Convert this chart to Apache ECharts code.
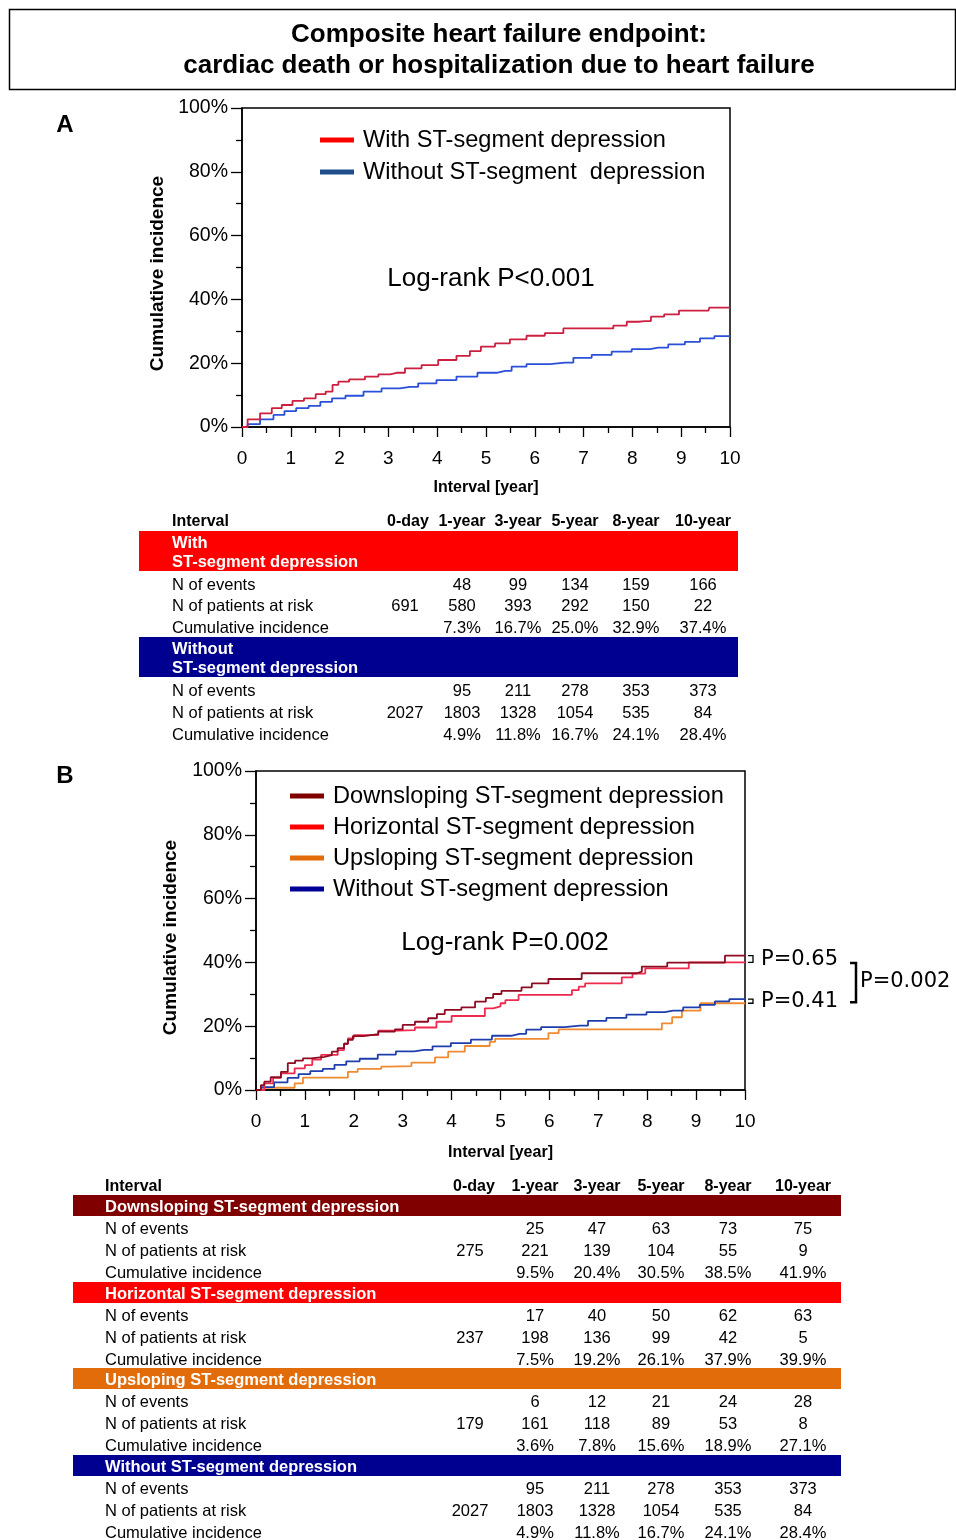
<!DOCTYPE html>
<html>
<head>
<meta charset="utf-8">
<script src="https://cdn.jsdelivr.net/npm/echarts@6/dist/echarts.min.js"></script>
<style>
html,body{margin:0;padding:0;background:#fff;}
#main{width:956px;height:1540px;}
</style>
</head>
<body>
<div id="main"></div>
<script>
// ---------------- DATA ----------------
// Panel A curves: [year, cumulative incidence %]
const withST = [[0,0],[0.23,2.4],[0.51,4.3],[0.71,5.9],[0.92,6.9],[1.15,8.2],[1.39,9.0],[1.63,10.3],[1.8,11.1],[1.91,13.2],[2.04,14.2],[2.35,14.9],[2.69,15.8],[2.9,16.5],[3.17,17.0],[3.51,18.4],[3.85,19.4],[4.19,21.0],[4.6,22.3],[4.74,23.8],[5.05,25.2],[5.32,26.2],[5.66,27.5],[6.0,28.6],[6.41,29.4],[6.76,30.9],[7.44,30.9],[7.78,31.8],[7.99,33.0],[8.26,33.2],[8.5,34.6],[8.8,35.3],[9.11,36.5],[9.56,36.5],[9.59,37.4],[10,37.4]];
const withoutST = [[0,0],[0.23,0.9],[0.51,2.4],[0.78,3.8],[0.96,5.0],[1.26,5.9],[1.47,6.6],[1.74,7.9],[1.95,9.0],[2.29,9.8],[2.69,11.1],[3.03,12.1],[3.44,12.6],[3.78,13.7],[4.19,14.7],[4.6,15.8],[5.05,17.0],[5.39,17.6],[5.66,18.9],[6.0,19.7],[6.62,20.2],[6.96,21.7],[7.37,22.6],[7.78,23.6],[8.19,24.4],[8.53,24.9],[8.94,25.9],[9.21,26.7],[9.56,27.8],[9.8,28.5],[10,28.5]];
// Panel B curves (jump time, value after jump)
const downsloping = [[0,0],[0.1,1.5],[0.17,2.6],[0.3,4.0],[0.51,5.7],[0.65,8.4],[0.8,9.2],[0.96,9.9],[1.13,10.4],[1.4,10.9],[1.55,12.0],[1.67,13.1],[1.8,14.5],[1.88,15.7],[1.98,16.9],[2.2,17.5],[2.5,18.3],[2.84,19.0],[3.0,20.4],[3.25,21.4],[3.52,22.5],[3.7,23.8],[3.86,25.1],[4.2,25.9],[4.48,27.7],[4.7,28.9],[4.85,30.1],[5.02,31.1],[5.43,32.2],[5.64,33.4],[5.98,34.8],[6.66,36.6],[7.79,37.1],[7.89,38.7],[8.41,39.9],[9.59,42.1],[10,42.1]];
const horizontal = [[0,0],[0.17,2.1],[0.35,3.8],[0.51,5.2],[0.79,6.8],[1.0,7.8],[1.15,9.5],[1.33,11.0],[1.67,12.5],[1.8,14.5],[1.88,16.2],[2.0,17.2],[2.5,18.6],[2.9,18.8],[3.25,19.6],[3.69,21.4],[4.0,23.2],[4.68,25.6],[4.85,26.2],[5.0,27.2],[5.1,28.2],[5.37,29.8],[6.46,31.3],[6.6,32.4],[6.73,33.4],[7.48,35.3],[7.7,36.5],[7.96,38.1],[8.85,40.0],[10,40.0]];
const upsloping = [[0,0],[0.17,0.7],[0.79,2.1],[0.96,3.9],[1.88,5.7],[2.08,6.6],[2.56,7.3],[2.7,7.5],[3.18,8.6],[3.66,10.2],[3.93,12.0],[4.27,13.8],[4.78,15.1],[4.89,16.0],[5.98,17.8],[6.19,19.0],[8.3,20.9],[8.51,22.8],[8.71,24.9],[9.09,27.2],[10,27.2]];

// Tables
const intervalCols = ['0-day','1-year','3-year','5-year','8-year','10-year'];
const rowLabels = ['N of events','N of patients at risk','Cumulative incidence'];
const withST_events = ['','48','99','134','159','166'];
const withST_atRisk = ['691','580','393','292','150','22'];
const withST_cumInc = ['','7.3%','16.7%','25.0%','32.9%','37.4%'];
const withoutST_events = ['','95','211','278','353','373'];
const withoutST_atRisk = ['2027','1803','1328','1054','535','84'];
const withoutST_cumInc = ['','4.9%','11.8%','16.7%','24.1%','28.4%'];
const down_events = ['','25','47','63','73','75'];
const down_atRisk = ['275','221','139','104','55','9'];
const down_cumInc = ['','9.5%','20.4%','30.5%','38.5%','41.9%'];
const horiz_events = ['','17','40','50','62','63'];
const horiz_atRisk = ['237','198','136','99','42','5'];
const horiz_cumInc = ['','7.5%','19.2%','26.1%','37.9%','39.9%'];
const up_events = ['','6','12','21','24','28'];
const up_atRisk = ['179','161','118','89','53','8'];
const up_cumInc = ['','3.6%','7.8%','15.6%','18.9%','27.1%'];

const pValues = ['P=0.65','P=0.41','P=0.002'];
const logRankA = 'Log-rank P<0.001';
const logRankB = 'Log-rank P=0.002';

// ---------------- CHART ----------------
const FONT = "'Liberation Sans', Arial, sans-serif";
const chart = echarts.init(document.getElementById('main'), null, {renderer:'canvas'});

function yAxisCfg(gi, gap, shift){
  return {
    gridIndex: gi, type:'value', min:0, max:100, interval:20,
    name:'Cumulative incidence', nameLocation:'middle', nameGap:gap,
    nameTextStyle:{fontFamily:FONT, fontSize:19, fontWeight:'bold', color:'#000', padding:[0, shift, 0, 0]},
    axisLine:{show:true, lineStyle:{color:'#000', width:1.5}},
    axisTick:{show:true, length:11, lineStyle:{color:'#000', width:1.3}},
    minorTick:{show:true, splitNumber:2, length:6, lineStyle:{color:'#000', width:1.3}},
    splitLine:{show:false},
    axisLabel:{formatter:'{value}%', fontFamily:FONT, fontSize:19.5, color:'#000', margin:14}
  };
}
function xAxisCfg(gi, gap){
  return {
    gridIndex: gi, type:'value', min:0, max:10, interval:1,
    name:'Interval [year]', nameLocation:'middle', nameGap:gap,
    nameTextStyle:{fontFamily:FONT, fontSize:16, fontWeight:'bold', color:'#000'},
    axisLine:{show:true, onZero:false, lineStyle:{color:'#000', width:1.5}},
    axisTick:{show:true, length:10, lineStyle:{color:'#000', width:1.3}},
    minorTick:{show:true, splitNumber:2, length:6, lineStyle:{color:'#000', width:1.3}},
    splitLine:{show:false},
    axisLabel:{fontFamily:FONT, fontSize:19, color:'#000', margin:22}
  };
}
function lineSeries(name, data, xi, lineColor, legendColor, step){
  return {
    name:name, type:'line', xAxisIndex:xi, yAxisIndex:xi, data:data,
    step:step, showSymbol:false, symbol:'none', silent:true,
    lineStyle:{color:lineColor, width:1.8},
    itemStyle:{color:legendColor}
  };
}
const legendText = {fontFamily:FONT, fontSize:23.6, lineHeight:26, color:'#000', padding:[0,0,0,4]};

const option = {
  animation:false,
  backgroundColor:'#fff',
  grid:[
    {left:242, top:108, width:488, height:319, show:true, borderColor:'#000', borderWidth:1.5, backgroundColor:'transparent'},
    {left:256, top:771, width:489, height:319, show:true, borderColor:'#000', borderWidth:1.5, backgroundColor:'transparent'}
  ],
  xAxis:[xAxisCfg(0, 53), xAxisCfg(1, 55)],
  yAxis:[yAxisCfg(0, 75, 12), yAxisCfg(1, 76, 14)],
  legend:[
    {data:[{name:'With ST-segment depression', itemStyle:{color:'#ff0000'}},
           {name:'Without ST-segment  depression', itemStyle:{color:'#1f4e8c'}}],
     orient:'vertical', left:315, top:122, icon:'rect', itemWidth:34, itemHeight:5, itemGap:6,
     selectedMode:false, textStyle:legendText},
    {data:[{name:'Downsloping ST-segment depression', itemStyle:{color:'#800000'}},
           {name:'Horizontal ST-segment depression', itemStyle:{color:'#ff0000'}},
           {name:'Upsloping ST-segment depression', itemStyle:{color:'#e36c0a'}},
           {name:'Without ST-segment depression', itemStyle:{color:'#000099'}}],
     orient:'vertical', left:285, top:778, icon:'rect', itemWidth:34, itemHeight:5, itemGap:5,
     selectedMode:false, textStyle:legendText}
  ],
  series:[
    lineSeries('Without ST-segment  depression', withoutST, 0, '#2a4fd8', '#1f4e8c', 'middle'),
    lineSeries('With ST-segment depression', withST, 0, '#cc1f3f', '#ff0000', 'middle'),
    lineSeries('Upsloping ST-segment depression', upsloping, 1, '#f08a30', '#e36c0a', 'end'),
    lineSeries('Without ST-segment depression', withoutST, 1, '#1f3eae', '#000099', 'middle'),
    lineSeries('Horizontal ST-segment depression', horizontal, 1, '#ee2a4e', '#ff0000', 'end'),
    lineSeries('Downsloping ST-segment depression', downsloping, 1, '#8e0c22', '#800000', 'end')
  ]
};
chart.setOption(option);

// ---------------- GRAPHICS (title, labels, tables, p-values) ----------------
const g = [];
function txt(text, x, y, opts){
  opts = opts || {};
  g.push({type:'text', silent:true, z:100, style:{
    text:text, x:x, y:y,
    font:(opts.weight||'normal')+' '+(opts.size||16.5)+'px '+(opts.family||FONT),
    fill:opts.color||'#000',
    textAlign:opts.align||'left', align:opts.align||'left',
    textVerticalAlign:'middle', verticalAlign:'middle'
  }});
}
function rect(x,y,w,h,fill,stroke,lw){
  g.push({type:'rect', silent:true, z:90, shape:{x:x,y:y,width:w,height:h},
    style:{fill:fill||'none', stroke:stroke||null, lineWidth:lw||0}});
}
function poly(points, lw){
  g.push({type:'polyline', silent:true, z:100, shape:{points:points},
    style:{stroke:'#000', lineWidth:lw, fill:null}});
}

// Title box
rect(9.5, 9.5, 946, 80, null, '#000', 1.5);
txt('Composite heart failure endpoint:', 499, 35, {weight:'bold', size:26, align:'center'});
txt('cardiac death or hospitalization due to heart failure', 499, 66, {weight:'bold', size:26, align:'center'});
txt('A', 65, 125, {weight:'bold', size:24, align:'center'});
txt('B', 65, 776, {weight:'bold', size:24, align:'center'});

// Log-rank texts
txt(logRankA, 491, 279, {size:26, align:'center'});
txt(logRankB, 505, 943, {size:26, align:'center'});

const OFF = 1.5; // text vertical offset
// Table A
const colXA = [405, 462, 518, 575, 636, 703];
txt('Interval', 172, 520+OFF, {weight:'bold', size:16});
intervalCols.forEach((c,i)=>txt(c, colXA[i] + (i===0?3:0), 520+OFF, {weight:'bold', size:16, align:'center'}));
function tableBlockA(bandY, color, l1, l2, rows, rowYs){
  rect(139, bandY, 599, 40, color);
  txt(l1, 172, bandY+11+OFF, {weight:'bold', size:16.5, color:'#fff'});
  txt(l2, 172, bandY+30+OFF, {weight:'bold', size:16.5, color:'#fff'});
  rows.forEach((r,ri)=>{
    txt(rowLabels[ri], 172, rowYs[ri]+OFF, {size:16.5});
    r.forEach((v,ci)=>{ if(v) txt(v, colXA[ci], rowYs[ri]+OFF, {size:16.5, align:'center'}); });
  });
}
tableBlockA(531, '#ff0000', 'With', 'ST-segment depression',
  [withST_events, withST_atRisk, withST_cumInc], [584, 605, 627]);
tableBlockA(637, '#000090', 'Without', 'ST-segment depression',
  [withoutST_events, withoutST_atRisk, withoutST_cumInc], [690, 712, 734]);

// Table B
const colXB = [470, 535, 597, 661, 728, 803];
txt('Interval', 105, 1185+OFF, {weight:'bold', size:16});
intervalCols.forEach((c,i)=>txt(c, colXB[i] + (i===0?4:0), 1185+OFF, {weight:'bold', size:16, align:'center'}));
function tableBlockB(bandY, color, label, rows){
  rect(73, bandY, 768, 21, color);
  txt(label, 105, bandY+11+OFF, {weight:'bold', size:16.5, color:'#fff'});
  const ys = [bandY+33, bandY+55, bandY+77];
  rows.forEach((r,ri)=>{
    txt(rowLabels[ri], 105, ys[ri]+OFF, {size:16.5});
    r.forEach((v,ci)=>{ if(v) txt(v, colXB[ci], ys[ri]+OFF, {size:16.5, align:'center'}); });
  });
}
tableBlockB(1195, '#800000', 'Downsloping ST-segment depression', [down_events, down_atRisk, down_cumInc]);
tableBlockB(1282, '#ff0000', 'Horizontal ST-segment depression', [horiz_events, horiz_atRisk, horiz_cumInc]);
tableBlockB(1368, '#e36c0a', 'Upsloping ST-segment depression', [up_events, up_atRisk, up_cumInc]);
tableBlockB(1455, '#000090', 'Without ST-segment depression', [withoutST_events, withoutST_atRisk, withoutST_cumInc]);

// P-value brackets, positioned from the curves' end values
const last = a => a[a.length-1][1];
const pD = chart.convertToPixel({gridIndex:1}, [10, last(downsloping)]);
const pH = chart.convertToPixel({gridIndex:1}, [10, last(horizontal)]);
const pW = chart.convertToPixel({gridIndex:1}, [10, last(withoutST)]);
const pU = chart.convertToPixel({gridIndex:1}, [10, last(upsloping)]);
const bx = pD[0] + 3;
poly([[bx, pD[1]], [bx+5, pD[1]], [bx+5, pH[1]], [bx, pH[1]]], 1.3);
poly([[bx, pW[1]], [bx+5, pW[1]], [bx+5, pU[1]], [bx, pU[1]]], 1.3);
const m1 = (pD[1]+pH[1])/2, m2 = (pW[1]+pU[1])/2;
txt(pValues[0], bx+13, m1, {size:21, family:"'DejaVu Sans', sans-serif"});
txt(pValues[1], bx+13, m2, {size:21, family:"'DejaVu Sans', sans-serif"});
const by1 = m1 + 4, by2 = m2 + 1, bX = 856;
poly([[bX-6, by1], [bX, by1], [bX, by2], [bX-6, by2]], 2.5);
txt(pValues[2], bX+4, (by1+by2)/2 - 1.5, {size:21, family:"'DejaVu Sans', sans-serif"});

chart.setOption({graphic:{elements:g}});
</script>
</body>
</html>
